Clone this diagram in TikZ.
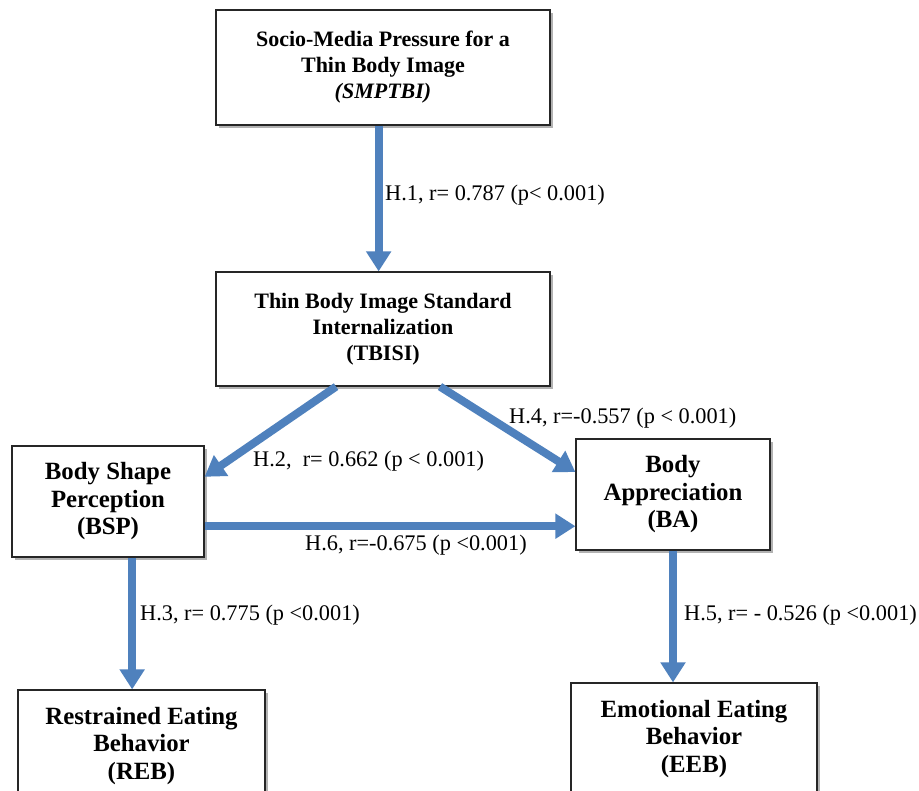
\documentclass[tikz,border=0pt]{standalone}
\usepackage{fontspec}
\setmainfont{Liberation Serif}
\usetikzlibrary{arrows.meta,shadows,calc}
\definecolor{arrowblue}{HTML}{4F81BD}
\begin{document}
\begin{tikzpicture}[x=1pt,y=-1pt,
  box/.style={draw=black!85, line width=1.2pt, fill=white, rectangle, align=center, inner sep=0pt,
    font=\fontsize{22}{26}\selectfont\bfseries,
    drop shadow={shadow xshift=3pt, shadow yshift=-3pt, fill=black, opacity=0.3}},
  bigbox/.style={box, font=\fontsize{24.8}{27.5}\selectfont\bfseries},
  link/.style={draw=arrowblue, line width=8pt, -{Triangle[width=24pt,length=20pt]}},
  lab/.style={font=\fontsize{22.3}{26}\selectfont, anchor=west, inner sep=0pt}]
\clip (0,0) rectangle (919,791);
\fill[white] (0,0) rectangle (919,791);
\node[box, minimum width=334pt, minimum height=115pt] (smp) at (383,67.5) {Socio-Media Pressure for a\\Thin Body Image\\\textit{(SMPTBI)}};
\node[box, minimum width=334pt, minimum height=114pt] (tbi) at (383,329) {Thin Body Image Standard\\Internalization\\(TBISI)};
\node[bigbox, minimum width=192pt, minimum height=111pt] (bsp) at (108,501.5) {Body Shape\\Perception\\(BSP)};
\node[bigbox, minimum width=194pt, minimum height=111pt] (ba) at (673,494.5) {Body\\Appreciation\\(BA)};
\node[bigbox, minimum width=247pt, minimum height=112pt] (reb) at (141.5,746) {Restrained Eating\\Behavior\\(REB)};
\node[bigbox, minimum width=246pt, minimum height=112pt] (eeb) at (694,739) {Emotional Eating\\Behavior\\(EEB)};
% connectors
\coordinate (h1s) at ($(smp.south west)!0.487!(smp.south east)$);
\draw[link] (h1s) -- (h1s |- tbi.north);
\draw[link] ($(tbi.south west)!0.36!(tbi.south east)$) -- ($(bsp.north east)!0.28!(bsp.south east)$);
\draw[link] ($(tbi.south west)!0.67!(tbi.south east)$) -- ($(ba.north west)!0.30!(ba.south west)$);
\coordinate (h6s) at ($(bsp.north east)!0.72!(bsp.south east)$);
\draw[link] (h6s) -- (h6s -| ba.west);
\coordinate (h3s) at ($(bsp.south west)!0.625!(bsp.south east)$);
\draw[link] (h3s) -- (h3s |- reb.north);
\draw[link] (ba.south) -- (ba.south |- eeb.north);
% labels
\node[lab] (l1) at (385,195) {H.1, r= 0.787 (p< 0.001)};
\node[lab] (l2) at (253,461) {H.2,\ \ r= 0.662 (p < 0.001)};
\node[lab] (l4) at (509,418) {H.4, r=-0.557 (p < 0.001)};
\node[lab] (l6) at (305,545) {H.6, r=-0.675 (p <0.001)};
\node[lab] (l3) at (140,615) {H.3, r= 0.775 (p <0.001)};
\node[lab] (l5) at (684,615) {H.5, r= - 0.526 (p <0.001)};
\end{tikzpicture}
\end{document}
